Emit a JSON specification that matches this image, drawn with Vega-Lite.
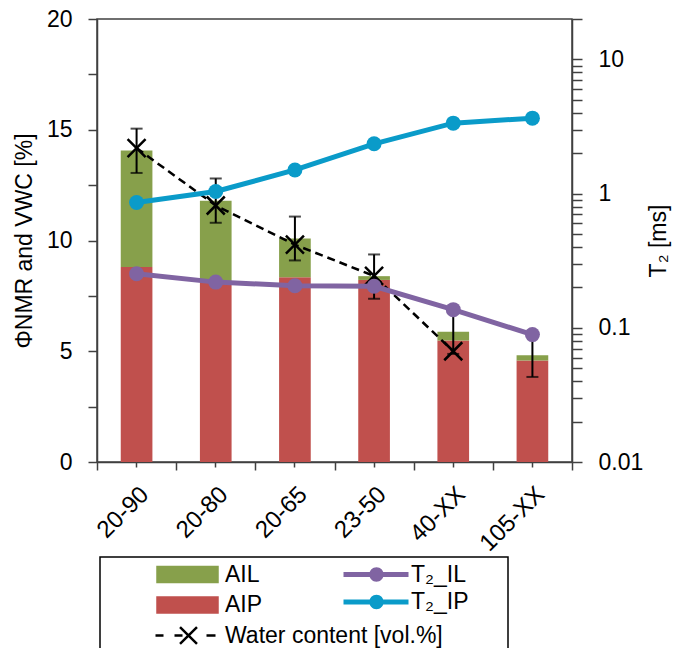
{
  "$schema": "https://vega.github.io/schema/vega-lite/v6.json",
  "width": 475,
  "height": 443,
  "autosize": "none",
  "padding": {"left": 97, "top": 19, "right": 116, "bottom": 186},
  "config": {
    "font": "Liberation Sans",
    "view": {"stroke": "#404040", "strokeWidth": 1.5},
    "axis": {
      "domainColor": "#404040", "domainWidth": 1.5,
      "tickColor": "#404040", "tickWidth": 1.5,
      "labelColor": "#000000", "titleColor": "#000000",
      "labelFont": "Liberation Sans", "titleFont": "Liberation Sans",
      "labelFontSize": 23, "titleFontSize": 23, "titleFontWeight": "normal",
      "grid": false
    }
  },
  "datasets": {
    "bars": [
      {"cat": "20-90", "series": "A_IP", "value": 8.8},
      {"cat": "20-90", "series": "A_IL", "value": 5.26},
      {"cat": "20-80", "series": "A_IP", "value": 8.16},
      {"cat": "20-80", "series": "A_IL", "value": 3.64},
      {"cat": "20-65", "series": "A_IP", "value": 8.34},
      {"cat": "20-65", "series": "A_IL", "value": 1.75},
      {"cat": "23-50", "series": "A_IP", "value": 8.22},
      {"cat": "23-50", "series": "A_IL", "value": 0.17},
      {"cat": "40-XX", "series": "A_IP", "value": 5.48},
      {"cat": "40-XX", "series": "A_IL", "value": 0.4},
      {"cat": "105-XX", "series": "A_IP", "value": 4.58},
      {"cat": "105-XX", "series": "A_IL", "value": 0.24}
    ],
    "errors": [
      {"cat": "20-90", "lo": 13.05, "hi": 15.05},
      {"cat": "20-80", "lo": 10.8, "hi": 12.8},
      {"cat": "20-65", "lo": 9.1, "hi": 11.08},
      {"cat": "23-50", "lo": 7.37, "hi": 9.37},
      {"cat": "40-XX", "lo": 4.88, "hi": 6.88},
      {"cat": "105-XX", "lo": 3.84, "hi": 5.8}
    ],
    "water": [
      {"cat": "20-90", "series": "Water content", "wc": 14.17},
      {"cat": "20-80", "series": "Water content", "wc": 11.58},
      {"cat": "20-65", "series": "Water content", "wc": 9.81},
      {"cat": "23-50", "series": "Water content", "wc": 8.4},
      {"cat": "40-XX", "series": "Water content", "wc": 5.0}
    ],
    "t2": [
      {"cat": "20-90", "series": "T2_IL", "t2": 0.253},
      {"cat": "20-80", "series": "T2_IL", "t2": 0.219},
      {"cat": "20-65", "series": "T2_IL", "t2": 0.206},
      {"cat": "23-50", "series": "T2_IL", "t2": 0.204},
      {"cat": "40-XX", "series": "T2_IL", "t2": 0.1365},
      {"cat": "105-XX", "series": "T2_IL", "t2": 0.089},
      {"cat": "20-90", "series": "T2_IP", "t2": 0.859},
      {"cat": "20-80", "series": "T2_IP", "t2": 1.037},
      {"cat": "20-65", "series": "T2_IP", "t2": 1.5},
      {"cat": "23-50", "series": "T2_IP", "t2": 2.35},
      {"cat": "40-XX", "series": "T2_IP", "t2": 3.35},
      {"cat": "105-XX", "series": "T2_IP", "t2": 3.65}
    ]
  },
  "layer": [
    {
      "layer": [
        {
          "data": {"name": "bars"},
          "mark": {"type": "bar", "width": {"band": 0.4}},
          "encoding": {
            "x": {"field": "cat", "type": "nominal", "sort": ["20-90", "20-80", "20-65", "23-50", "40-XX", "105-XX"],
                  "scale": {"paddingInner": 0, "paddingOuter": 0},
                  "axis": {"orient": "bottom", "title": null, "labelAngle": -45, "labelFontSize": 24, "tickSize": 5, "labelPadding": 15, "labelOverlap": false}},
            "y": {"field": "value", "type": "quantitative", "stack": "zero",
                  "scale": {"domain": [0, 20], "nice": false},
                  "axis": {"orient": "left", "title": "ΦNMR and VWC [%]",
                           "values": [0, 2.5, 5, 7.5, 10, 12.5, 15, 17.5, 20],
                           "labelExpr": "datum.value % 5 === 0 ? datum.label : ''",
                           "tickSize": 9, "labelPadding": 16, "titlePadding": 10,
                           "labelOverlap": false, "labelFlush": false}},
            "color": {"field": "series", "type": "nominal",
                      "scale": {"domain": ["A_IL", "A_IP", "Water content"],
                                "range": ["#87A04B", "#C0504D", "#000000"]},
                      "legend": {
                        "orient": "none", "legendX": 3, "legendY": 538, "title": null,
                        "direction": "vertical", "rowPadding": 3.5,
                        "padding": 6, "strokeColor": "#000000", "symbolSize": 256,
                        "labelOffset": 96, "labelFont": "Liberation Sans", "labelFontSize": 23,
                        "labelColor": "#000000", "labelLimit": 400,
                        "labelExpr": "datum.value === 'A_IL' ? 'AIL' : datum.value === 'A_IP' ? 'AIP' : 'Water content [vol.%]'",
                        "encode": {
                          "legend": {"update": {"strokeWidth": {"value": 1.5}}},
                          "symbols": {"update": {
                            "shape": {"signal": "datum.value === 'Water content' ? 'M-1,0M4.75,0H5.75M7.125,0H8.125M7.815,-1.04L9.935,1.04M7.815,1.04L9.935,-1.04M11.125,0H12.25M47.4,0' : 'M-1,0M5,-0.94H12.5V0.94H5Z'"},
                            "fill": {"signal": "datum.value === 'Water content' ? 'transparent' : scale('color', datum.value)"},
                            "stroke": {"signal": "datum.value === 'Water content' ? '#000000' : 'transparent'"},
                            "strokeWidth": {"value": 2.5},
                            "size": {"value": 256},
                            "opacity": {"value": 1}
                          }}
                        }
                      }},
            "order": {"field": "series", "sort": "descending"}
          }
        },
        {
          "data": {"name": "errors"},
          "mark": {"type": "rule", "color": "#000000", "strokeWidth": 2},
          "encoding": {
            "x": {"field": "cat", "type": "nominal", "sort": ["20-90", "20-80", "20-65", "23-50", "40-XX", "105-XX"]},
            "y": {"field": "lo", "type": "quantitative", "axis": {"title": "ΦNMR and VWC [%]"}},
            "y2": {"field": "hi"}
          }
        },
        {
          "data": {"name": "errors"},
          "mark": {"type": "tick", "color": "#000000", "size": 12, "thickness": 2, "orient": "horizontal"},
          "encoding": {
            "x": {"field": "cat", "type": "nominal", "sort": ["20-90", "20-80", "20-65", "23-50", "40-XX", "105-XX"]},
            "y": {"field": "lo", "type": "quantitative", "axis": {"title": "ΦNMR and VWC [%]"}}
          }
        },
        {
          "data": {"name": "errors"},
          "mark": {"type": "tick", "color": "#000000", "size": 12, "thickness": 2, "orient": "horizontal"},
          "encoding": {
            "x": {"field": "cat", "type": "nominal", "sort": ["20-90", "20-80", "20-65", "23-50", "40-XX", "105-XX"]},
            "y": {"field": "hi", "type": "quantitative", "axis": {"title": "ΦNMR and VWC [%]"}}
          }
        },
        {
          "data": {"name": "water"},
          "mark": {"type": "line", "strokeDash": [8, 5], "strokeWidth": 2.5},
          "encoding": {
            "x": {"field": "cat", "type": "nominal", "sort": ["20-90", "20-80", "20-65", "23-50", "40-XX", "105-XX"]},
            "y": {"field": "wc", "type": "quantitative", "axis": {"title": "ΦNMR and VWC [%]"}},
            "color": {"field": "series", "type": "nominal"}
          }
        },
        {
          "data": {"name": "water"},
          "mark": {"type": "point", "shape": "M-1,-1L1,1M-1,1L1,-1", "filled": false, "size": 324, "strokeWidth": 2.5, "opacity": 1},
          "encoding": {
            "x": {"field": "cat", "type": "nominal", "sort": ["20-90", "20-80", "20-65", "23-50", "40-XX", "105-XX"]},
            "y": {"field": "wc", "type": "quantitative", "axis": {"title": "ΦNMR and VWC [%]"}},
            "color": {"field": "series", "type": "nominal"}
          }
        }
      ]
    },
    {
      "data": {"name": "t2"},
      "layer": [
        {
          "mark": {"type": "line", "strokeWidth": 5},
          "encoding": {
            "x": {"field": "cat", "type": "nominal", "sort": ["20-90", "20-80", "20-65", "23-50", "40-XX", "105-XX"],
                  "axis": {"orient": "bottom", "title": null, "tickBand": "extent", "tickSize": 8, "labels": false, "domain": false}},
            "y": {"field": "t2", "type": "quantitative",
                  "scale": {"type": "log", "domain": [0.01, 20], "nice": false},
                  "axis": {"orient": "right", "title": "T₂ [ms]", "titleAngle": 270, "titleBaseline": "top",
                           "values": [0.01, 0.02, 0.03, 0.04, 0.05, 0.06, 0.07, 0.08, 0.09, 0.1, 0.2, 0.3, 0.4, 0.5, 0.6, 0.7, 0.8, 0.9, 1, 2, 3, 4, 5, 6, 7, 8, 9, 10, 20],
                           "labelExpr": "abs(log(datum.value)/LN10 - round(log(datum.value)/LN10)) < 0.000001 ? format(datum.value, '~g') : ''",
                           "tickSize": 10, "labelPadding": 16, "titlePadding": 5,
                           "labelOverlap": false, "labelFlush": false,
                           "encode": {"ticks": {"update": {"x2": {"signal": "abs(log(datum.value)/LN10 - round(log(datum.value)/LN10)) < 0.000001 ? 10 : 7"}}}}}},
            "stroke": {"field": "series", "type": "nominal",
                       "scale": {"domain": ["T2_IL", "T2_IP"], "range": ["#8064A2", "#0A9BC9"]},
                       "legend": {
                         "orient": "none", "legendX": 189, "legendY": 538, "title": null,
                         "direction": "vertical", "rowPadding": 3.5,
                         "padding": 6, "symbolSize": 256,
                         "labelOffset": 96, "labelFont": "Liberation Sans", "labelFontSize": 23,
                         "labelColor": "#000000", "labelLimit": 400,
                         "labelExpr": "datum.value === 'T2_IL' ? 'T₂_IL' : 'T₂_IP'",
                         "encode": {
                           "symbols": {"update": {
                             "shape": {"value": "M-1,0M5,-0.31H13.125V0.31H5ZM8.225,0A0.9,0.9 0 1,1 10.025,0A0.9,0.9 0 1,1 8.225,0Z"},
                             "fill": {"signal": "scale('stroke', datum.value)"},
                             "stroke": {"value": "transparent"},
                             "strokeWidth": {"value": 0},
                             "size": {"value": 256},
                             "opacity": {"value": 1}
                           }}
                         }
                       }}
          }
        },
        {
          "mark": {"type": "point", "filled": true, "size": 225, "opacity": 1},
          "encoding": {
            "x": {"field": "cat", "type": "nominal", "sort": ["20-90", "20-80", "20-65", "23-50", "40-XX", "105-XX"]},
            "y": {"field": "t2", "type": "quantitative"},
            "fill": {"field": "series", "type": "nominal",
                     "scale": {"domain": ["T2_IL", "T2_IP"], "range": ["#8064A2", "#0A9BC9"]},
                     "legend": null}
          }
        }
      ]
    }
  ],
  "resolve": {"scale": {"y": "independent"}, "axis": {"x": "independent"}}
}
